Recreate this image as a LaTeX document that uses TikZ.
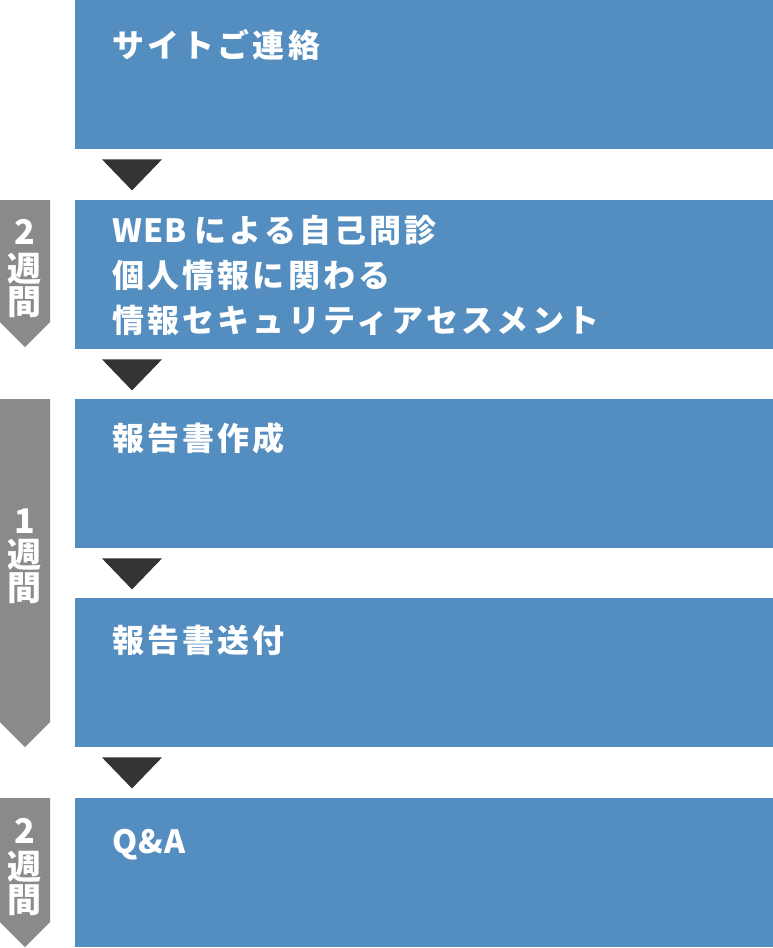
\documentclass[tikz,border=0pt]{standalone}
\usepackage{fontspec}
\newfontfamily\stepfont{Noto Sans CJK JP}[LetterSpace=10]
\newfontfamily\latinfont{Noto Sans CJK JP}[LetterSpace=3]
\newfontfamily\weekfont{Noto Sans CJK JP}
\usetikzlibrary{positioning}

\definecolor{stepblue}{HTML}{548DBF}
\definecolor{weekgrey}{HTML}{8A8A8A}
\definecolor{tridark}{HTML}{333333}

\tikzset{
    stepbox/.style={fill=stepblue, anchor=north west, inner sep=0pt,
        minimum width=698pt, minimum height=149pt},
    steptext/.style={text=white, anchor=west, inner sep=0pt, align=left,
        font=\stepfont\bfseries\fontsize{32}{45}\selectfont},
    weektext/.style={text=white, inner sep=0pt,
        font=\weekfont\bfseries\fontsize{34}{34}\selectfont},
    downtri/.style={fill=tridark},
    weekarrow/.style={fill=weekgrey}
}

\begin{document}
\begin{tikzpicture}[x=1pt, y=-1pt]

\useasboundingbox (0,0) rectangle (773,948);

% Step boxes
\node (box1) at (75,0) [stepbox] {};
\node (box2) at (75,200) [stepbox] {};
\node (box3) at (75,399) [stepbox] {};
\node (box4) at (75,598) [stepbox] {};
\node (box5) at (75,798) [stepbox] {};

% Step labels
\node (lab1) at (112,45) [steptext] {サイトご連絡};
\node (lab2) at (112,275) [steptext] {{\latinfont WEB }による自己問診\\個人情報に関わる\\情報セキュリティアセスメント};
\node (lab3) at (112,438) [steptext] {報告書作成};
\node (lab4) at (112,640) [steptext] {報告書送付};
\node (lab5) at (112,845) [steptext] {{\latinfont Q\&A}};

% Triangles between the steps
\fill [downtri] ([xshift=27pt,yshift=-10pt]box1.south west) -- ++(60,0) -- ++(-30,31) -- cycle;
\fill [downtri] ([xshift=27pt,yshift=-10pt]box2.south west) -- ++(60,0) -- ++(-30,31) -- cycle;
\fill [downtri] ([xshift=27pt,yshift=-10pt]box3.south west) -- ++(60,0) -- ++(-30,31) -- cycle;
\fill [downtri] ([xshift=27pt,yshift=-10pt]box4.south west) -- ++(60,0) -- ++(-30,31) -- cycle;

% Duration arrows on the left
\fill [weekarrow] (0,200) -- (50,200) -- (50,322) -- (25,347) -- (0,322) -- cycle;
\fill [weekarrow] (0,399) -- (50,399) -- (50,722) -- (25,747) -- (0,722) -- cycle;
\fill [weekarrow] (0,798) -- (50,798) -- (50,922) -- (25,947) -- (0,922) -- cycle;

% Duration labels
\node (w1n) at (25,232) [weektext] {2};
\node (w1a) at (25,269) [weektext] {週};
\node (w1b) at (25,302) [weektext] {間};
\node (w2n) at (25,521) [weektext] {1};
\node (w2a) at (25,555) [weektext] {週};
\node (w2b) at (25,588) [weektext] {間};
\node (w3n) at (25,831) [weektext] {2};
\node (w3a) at (25,867) [weektext] {週};
\node (w3b) at (25,900) [weektext] {間};

\end{tikzpicture}
\end{document}
